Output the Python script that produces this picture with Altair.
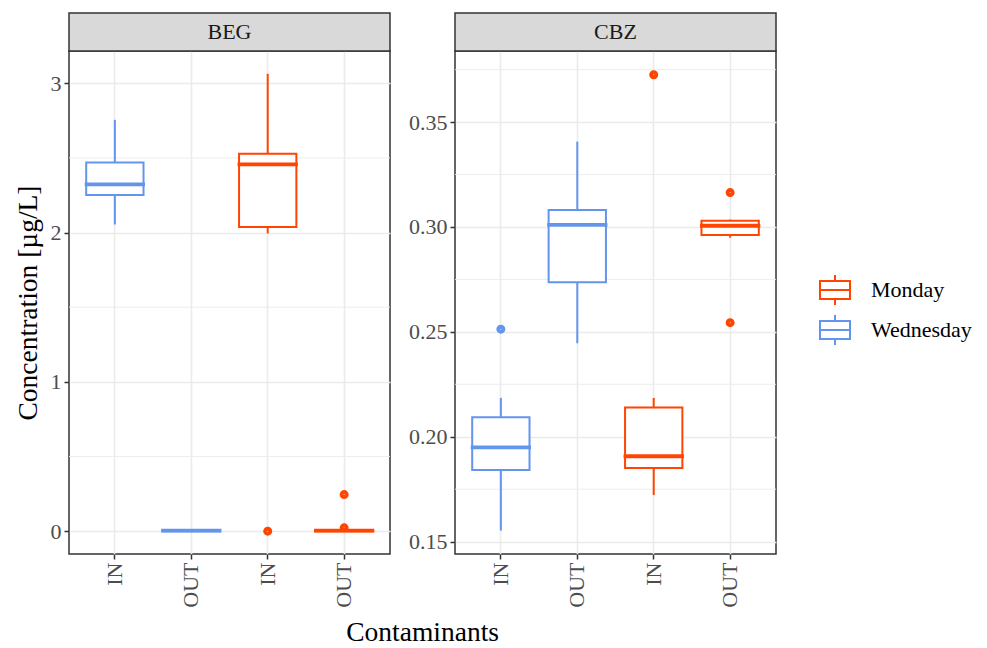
import altair as alt
import pandas as pd

FONT = "Liberation Serif"

# ---- data ----
groups = ["Wednesday IN", "Wednesday OUT", "Monday IN", "Monday OUT"]
days = ["Wednesday", "Wednesday", "Monday", "Monday"]
day_order = ["Monday", "Wednesday"]
day_colors = ["#FF4500", "#6495ED"]

beg_low = [2.054, 0.000, 1.994, 0.000]
beg_q1 = [2.252, 0.000, 2.038, 0.000]
beg_med = [2.323, 0.003, 2.457, 0.003]
beg_q3 = [2.470, 0.006, 2.528, 0.006]
beg_high = [2.755, 0.008, 3.063, 0.010]
beg_out_group = ["Monday IN", "Monday OUT", "Monday OUT"]
beg_out_value = [0.000, 0.245, 0.022]

cbz_low = [0.1553, 0.2446, 0.1722, 0.2949]
cbz_q1 = [0.1842, 0.2737, 0.1851, 0.2962]
cbz_med = [0.1949, 0.3010, 0.1907, 0.3006]
cbz_q3 = [0.2093, 0.3081, 0.2140, 0.3030]
cbz_high = [0.2185, 0.3407, 0.2185, 0.3035]
cbz_out_group = ["Wednesday IN", "Monday IN", "Monday OUT", "Monday OUT"]
cbz_out_value = [0.2513, 0.3726, 0.3164, 0.2544]

beg_ticks = [0, 1, 2, 3]
beg_minor = [0.5, 1.5, 2.5]
cbz_ticks = [0.15, 0.20, 0.25, 0.30, 0.35]
cbz_minor = [0.175, 0.225, 0.275, 0.325, 0.375]

W = 321
H = 503
STRIP = 38

BOX_PATH = "M-1,-0.6H1V0.6H-1Z M-1,0H1 M0,-0.6V-1 M0,0.6V1"

day_for = dict(zip(groups, days))

LEGEND = alt.Legend(title=None, orient="none", legendX=750, legendY=223,
                    symbolType=BOX_PATH, symbolSize=900,
                    symbolStrokeWidth=2, symbolFillColor="white",
                    labelFont=FONT, labelFontSize=22, labelColor="black",
                    labelOffset=20, rowPadding=2)


def panel(name, low, q1, med, q3, high, og, ov, ticks, minor, domain, fmt, ytitle):
    box_df = pd.DataFrame({"group": groups, "day": days, "low": low, "q1": q1,
                           "med": med, "q3": q3, "high": high})
    out_df = pd.DataFrame({"group": og, "day": [day_for[g] for g in og], "value": ov})
    minor_df = pd.DataFrame({"v": minor})
    strip_df = pd.DataFrame({"panel": [name]})

    xscale = alt.Scale(domain=groups, paddingInner=0.25, paddingOuter=0.225)
    yscale = alt.Scale(domain=domain, nice=False, zero=False)
    cscale = alt.Scale(domain=day_order, range=day_colors)

    xax = alt.Axis(title=None, labelExpr="split(datum.label, ' ')[1]", labelAngle=270,
                   grid=True, bandPosition=0.5)
    yax = alt.Axis(title=ytitle, values=ticks, format=fmt, grid=True)

    x = alt.X("group:N", scale=xscale, axis=xax, sort=groups)

    def col(legend=None):
        return alt.Color("day:N", scale=cscale, legend=legend)

    minor_layer = alt.Chart(minor_df).mark_rule(color="#EBEBEB", strokeWidth=0.9).encode(
        y=alt.Y("v:Q", scale=yscale, axis=yax))

    box_fill = alt.Chart(box_df).mark_bar(fill="white").encode(
        x=x, y=alt.Y("q1:Q", scale=yscale, axis=yax), y2="q3:Q")
    box = alt.Chart(box_df).mark_bar(filled=False, strokeWidth=2).encode(
        x=x, y=alt.Y("q1:Q", scale=yscale, axis=yax), y2="q3:Q", color=col(LEGEND))
    lower = alt.Chart(box_df).mark_rule(strokeWidth=2).encode(
        x=x, y=alt.Y("low:Q", scale=yscale, axis=yax), y2="q1:Q", color=col())
    upper = alt.Chart(box_df).mark_rule(strokeWidth=2).encode(
        x=x, y=alt.Y("q3:Q", scale=yscale, axis=yax), y2="high:Q", color=col())
    median = alt.Chart(box_df).mark_tick(filled=False, thickness=0.8, strokeWidth=3,
                                         opacity=1).encode(
        x=x, y=alt.Y("med:Q", scale=yscale, axis=yax), color=col())
    outl = alt.Chart(out_df).mark_point(filled=False, shape="circle", size=16,
                                        strokeWidth=5, opacity=1).encode(
        x=x, y=alt.Y("value:Q", scale=yscale, axis=yax), color=col())

    strip = alt.Chart(strip_df).mark_rect(fill="#D9D9D9", stroke="#333333", strokeWidth=1.5).encode(
        x=alt.value(0), x2=alt.value(W), y=alt.value(-STRIP), y2=alt.value(0))
    strip_text = alt.Chart(strip_df).mark_text(font=FONT, fontSize=22, color="#1A1A1A",
                                               baseline="middle", align="center").encode(
        x=alt.value(W / 2), y=alt.value(-STRIP / 2), text="panel:N")

    return alt.layer(minor_layer, box_fill, box, lower, upper, median, outl, strip,
                     strip_text).properties(width=W, height=H)


p1 = panel("BEG", beg_low, beg_q1, beg_med, beg_q3, beg_high, beg_out_group, beg_out_value,
           beg_ticks, beg_minor, [-0.153, 3.216], "d", "Concentration [µg/L]")
p2 = panel("CBZ", cbz_low, cbz_q1, cbz_med, cbz_q3, cbz_high, cbz_out_group, cbz_out_value,
           cbz_ticks, cbz_minor, [0.1441, 0.3839], ".2f", None)

chart = alt.hconcat(p1, p2, spacing=15).properties(
    background="white",
    padding={"left": 5, "top": 3, "right": 0, "bottom": 5},
    title=alt.TitleParams("Contaminants", orient="bottom", anchor="middle", font=FONT,
                          fontSize=27.5, fontWeight="normal", color="black", offset=11, dx=-70)
).configure_view(stroke="#333333", strokeWidth=1.5).configure_axis(
    domain=False, tickColor="#333333", tickWidth=1.5, tickSize=5,
    labelFont=FONT, labelFontSize=22, labelColor="#4D4D4D", labelPadding=3,
    gridColor="#EBEBEB", gridWidth=1.6,
    titleFont=FONT, titleFontSize=27.5, titleColor="black", titleFontWeight="normal",
    titlePadding=8
)

chart.save("out.html", embed_options={"renderer": "svg", "actions": False})
